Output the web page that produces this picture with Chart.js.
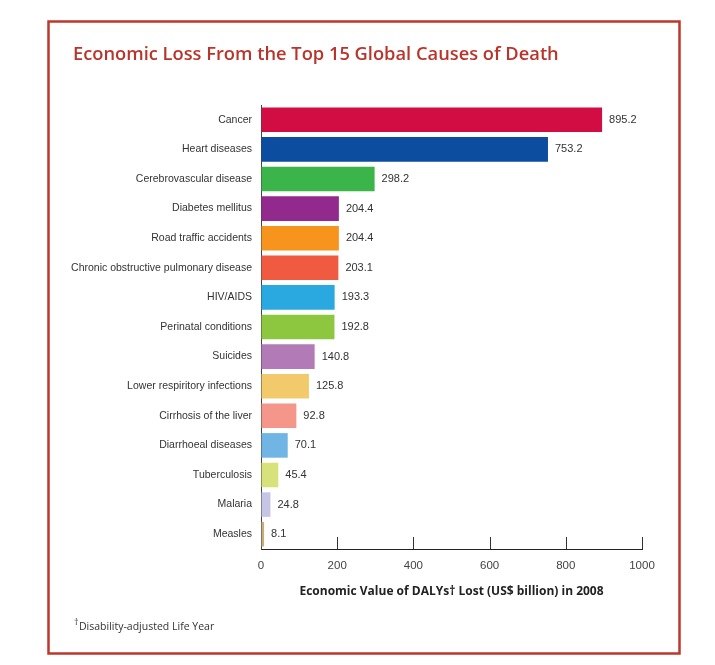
<!DOCTYPE html>
<html>
<head>
<meta charset="utf-8">
<script src="https://cdn.jsdelivr.net/npm/chart.js@4/dist/chart.umd.min.js"></script>
<style>
  html, body { margin: 0; padding: 0; background: #ffffff; }
  #wrap { width: 715px; height: 665px; position: relative; }
</style>
</head>
<body>
<div id="wrap"><canvas id="lossChart" width="715" height="665"></canvas></div>
<script>
const causes = [
    "Cancer", "Heart diseases", "Cerebrovascular disease", "Diabetes mellitus",
    "Road traffic accidents", "Chronic obstructive pulmonary disease", "HIV/AIDS",
    "Perinatal conditions", "Suicides", "Lower respiritory infections",
    "Cirrhosis of the liver", "Diarrhoeal diseases", "Tuberculosis", "Malaria", "Measles"
];
const lossValues = [895.2, 753.2, 298.2, 204.4, 204.4, 203.1, 193.3, 192.8, 140.8, 125.8, 92.8, 70.1, 45.4, 24.8, 8.1];
const valueLabels = ["895.2", "753.2", "298.2", "204.4", "204.4", "203.1", "193.3", "192.8", "140.8", "125.8", "92.8", "70.1", "45.4", "24.8", "8.1"];
const barColors = [
    "#d20d43", "#0d4d9f", "#3bb44a", "#922a8e", "#f7941e", "#ef5a40", "#29a9e0",
    "#8dc63f", "#b27ab6", "#f2ca6b", "#f4968a", "#70b5e3", "#d8e27b", "#c7c5e6", "#c9ab7e"
];
const xTicks = [0, 200, 400, 600, 800, 1000];

const chartTitle = "Economic Loss From the Top 15 Global Causes of Death";
const axisTitle = "Economic Value of DALYs\u2020 Lost (US$ billion) in 2008";
const footnote = "Disability-adjusted Life Year";

const labelFont = "'Liberation Sans', Arial, sans-serif";
const frameColor = "#bd372d";

// frame, title, footnote, value labels and inner tick marks
const decorations = {
    id: "decorations",
    afterDraw(chart) {
        const ctx = chart.ctx;
        const xScale = chart.scales.x;
        const area = chart.chartArea;
        ctx.save();

        // red frame
        ctx.strokeStyle = frameColor;
        ctx.lineWidth = 2.5;
        ctx.strokeRect(48.5, 21.5, 631, 632);

        // title
        ctx.fillStyle = "#b9352b";
        ctx.font = "600 18.3px 'Open Sans', sans-serif";
        ctx.textBaseline = "middle";
        ctx.textAlign = "left";
        ctx.fillText(chartTitle, 73, 55);

        // footnote
        ctx.fillStyle = "#333333";
        ctx.font = "9px 'Open Sans', sans-serif";
        ctx.fillText("\u2020", 74, 622);
        ctx.font = "10.5px 'Open Sans', sans-serif";
        ctx.fillText(footnote, 79, 627);

        // short tick marks pointing into the plot
        ctx.strokeStyle = "#333333";
        ctx.lineWidth = 1;
        xTicks.forEach(v => {
            if (v === 0) return;
            const px = Math.round(xScale.getPixelForValue(v)) + 0.5;
            ctx.beginPath();
            ctx.moveTo(px, area.bottom);
            ctx.lineTo(px, area.bottom - 12);
            ctx.stroke();
        });

        // value labels
        const meta = chart.getDatasetMeta(0);
        ctx.fillStyle = "#333333";
        ctx.font = "11px " + labelFont;
        ctx.textAlign = "left";
        meta.data.forEach((bar, i) => {
            ctx.fillText(valueLabels[i], bar.x + 7, bar.y);
        });
        ctx.restore();
    }
};

new Chart(document.getElementById("lossChart"), {
    type: "bar",
    data: {
        labels: causes,
        datasets: [{
            data: lossValues,
            backgroundColor: barColors,
            borderWidth: 0,
            categoryPercentage: 1,
            barPercentage: 0.83
        }]
    },
    options: {
        indexAxis: "y",
        responsive: false,
        animation: false,
        layout: { padding: { left: 0, right: 73, top: 105, bottom: 66 } },
        plugins: {
            legend: { display: false },
            tooltip: { enabled: false }
        },
        scales: {
            x: {
                min: 0,
                max: 1000,
                afterFit: scale => { scale.height = 50; },
                afterBuildTicks: scale => { scale.ticks = xTicks.map(v => ({ value: v })); },
                grid: { display: true, drawOnChartArea: false, drawTicks: false },
                border: { display: true, color: "#222222", width: 1 },
                ticks: {
                    padding: 10,
                    color: "#444444",
                    font: { family: labelFont, size: 11.5 },
                    maxRotation: 0,
                    callback: value => String(value)
                },
                title: {
                    display: true,
                    text: axisTitle,
                    color: "#222222",
                    font: { family: "'Open Sans', sans-serif", size: 12, weight: "bold" },
                    padding: { top: 8, bottom: 0 }
                }
            },
            y: {
                afterFit: scale => { scale.width = 261; },
                grid: { display: false, drawTicks: false },
                border: { display: true, color: "#444444", width: 1 },
                ticks: {
                    padding: 9,
                    color: "#333333",
                    font: { family: labelFont, size: 10.5 }
                }
            }
        }
    },
    plugins: [decorations]
});
</script>
</body>
</html>
